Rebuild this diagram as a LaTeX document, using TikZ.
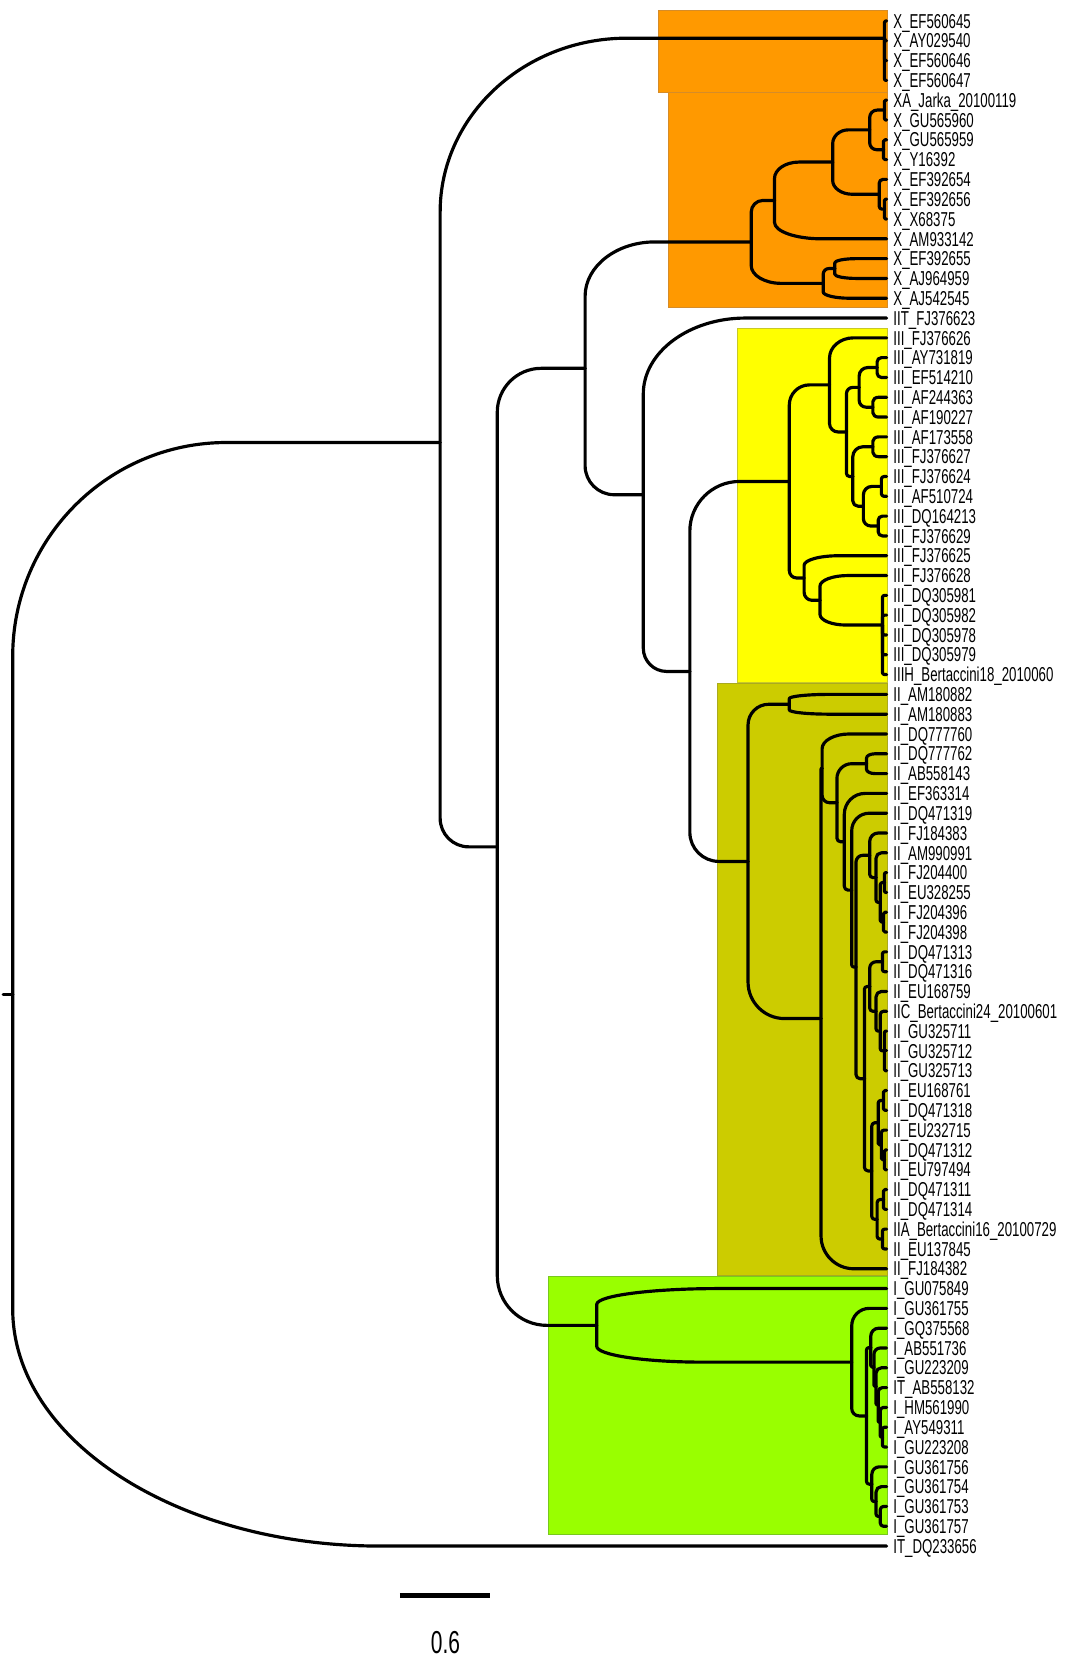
\documentclass[tikz,border=0pt]{standalone}
\usepackage{fontspec}
\newfontfamily\labfont{Liberation Sans}[FakeStretch=0.66]
\definecolor{orA}{RGB}{255,153,0}
\definecolor{orB}{RGB}{214,140,40}
\definecolor{yeA}{RGB}{255,255,0}
\definecolor{yeB}{RGB}{200,200,40}
\definecolor{olA}{RGB}{204,204,0}
\definecolor{olB}{RGB}{170,170,30}
\definecolor{grA}{RGB}{153,255,0}
\definecolor{grB}{RGB}{120,200,30}
\tikzset{
  branch/.style={line width=1.5pt, line cap=round, line join=round},
  lab/.style={anchor=base west, inner sep=0pt, font=\labfont\fontsize{9.5}{10}\selectfont},
  boxO/.style={fill=orA, draw=orB, line width=0.5pt},
  boxY/.style={fill=yeA, draw=yeB, line width=0.5pt},
  boxL/.style={fill=olA, draw=olB, line width=0.5pt},
  boxG/.style={fill=grA, draw=grB, line width=0.5pt},
  scalebar/.style={line width=2pt},
  scalelab/.style={inner sep=0pt, font=\labfont\fontsize{15}{16}\selectfont}
}
\newcommand\RW[1]{\csname nr-#1\endcsname}
\newcommand\setnode[3]{%
  \pgfmathsetmacro\snY{19.8+(#3-1)*18.72}%
  \expandafter\xdef\csname nx-#1\endcsname{#2}%
  \expandafter\xdef\csname ny-#1\endcsname{\snY}%
  \pgfmathsetmacro\snR{#3}%
  \expandafter\xdef\csname nr-#1\endcsname{\snR}%
  \coordinate (#1) at (#2,\snY);}
\newcommand\inode[4]{%
  \edef\inA{\RW{#3}}\edef\inB{\RW{#4}}%
  \pgfmathsetmacro\inR{(\inA+\inB)/2}%
  \setnode{#1}{#2}{\inR}}
\newcommand\leafnode[2]{%
  \setnode{l#1}{838}{#1}%
  \edef\lfY{\csname ny-l#1\endcsname}%
  \pgfmathsetmacro\lfB{\lfY+6.8}%
  \node[lab] (t#1) at (844,\lfB) {#2};}
\newcommand\tbranch[2]{%
  \edef\bAx{\csname nx-#1\endcsname}\edef\bAy{\csname ny-#1\endcsname}%
  \edef\bBx{\csname nx-#2\endcsname}\edef\bBy{\csname ny-#2\endcsname}%
  \pgfmathsetmacro\bRy{min(0.43*abs(\bBy-\bAy),0.5*(\bBx-\bAx))}%
  \pgfmathsetmacro\bRx{min(0.9*(\bBx-\bAx),max(0.42*(\bBx-\bAx),\bRy))}%
  \pgfmathsetmacro\bS{ifthenelse(\bBy<\bAy,-1,1)}%
  \pgfmathsetmacro\bYa{\bBy-(\bS)*\bRy}%
  \pgfmathsetmacro\bYc{\bBy-0.448*(\bS)*\bRy}%
  \pgfmathsetmacro\bXc{\bAx+0.448*\bRx}%
  \pgfmathsetmacro\bXe{\bAx+\bRx}%
  \draw[branch] (#1) -- (\bAx,\bYa) .. controls (\bAx,\bYc) and (\bXc,\bBy) .. (\bXe,\bBy) -- (#2);}
\begin{document}
\begin{tikzpicture}[x=0.5pt,y=-0.5pt]
\useasboundingbox (0,0) rectangle (1028,1568);
% coloured clade boxes
\path[boxO] (622,9.5) rectangle (839,87);
\path[boxO] (632,87) rectangle (839,290.5);
\path[boxY] (697,310.5) rectangle (839,645.5);
\path[boxL] (678,646) rectangle (839,1205.5);
\path[boxG] (518.5,1206.5) rectangle (839,1450);
% leaves and labels
\foreach \i/\t in {1/X\_EF560645,2/X\_AY029540,3/X\_EF560646,4/X\_EF560647,
 5/XA\_Jarka\_20100119,6/X\_GU565960,7/X\_GU565959,8/X\_Y16392,9/X\_EF392654,
 10/X\_EF392656,11/X\_X68375,12/X\_AM933142,13/X\_EF392655,14/X\_AJ964959,
 15/X\_AJ542545,16/IIT\_FJ376623,17/III\_FJ376626,18/III\_AY731819,19/III\_EF514210,
 20/III\_AF244363,21/III\_AF190227,22/III\_AF173558,23/III\_FJ376627,24/III\_FJ376624,
 25/III\_AF510724,26/III\_DQ164213,27/III\_FJ376629,28/III\_FJ376625,29/III\_FJ376628,
 30/III\_DQ305981,31/III\_DQ305982,32/III\_DQ305978,33/III\_DQ305979,
 34/IIIH\_Bertaccini18\_2010060,35/II\_AM180882,36/II\_AM180883,37/II\_DQ777760,
 38/II\_DQ777762,39/II\_AB558143,40/II\_EF363314,41/II\_DQ471319,42/II\_FJ184383,
 43/II\_AM990991,44/II\_FJ204400,45/II\_EU328255,46/II\_FJ204396,47/II\_FJ204398,
 48/II\_DQ471313,49/II\_DQ471316,50/II\_EU168759,51/IIC\_Bertaccini24\_20100601,
 52/II\_GU325711,53/II\_GU325712,54/II\_GU325713,55/II\_EU168761,56/II\_DQ471318,
 57/II\_EU232715,58/II\_DQ471312,59/II\_EU797494,60/II\_DQ471311,61/II\_DQ471314,
 62/IIA\_Bertaccini16\_20100729,63/II\_EU137845,64/II\_FJ184382,65/I\_GU075849,
 66/I\_GU361755,67/I\_GQ375568,68/I\_AB551736,69/I\_GU223209,70/IT\_AB558132,
 71/I\_HM561990,72/I\_AY549311,73/I\_GU223208,74/I\_GU361756,75/I\_GU361754,
 76/I\_GU361753,77/I\_GU361757,78/IT\_DQ233656}{\leafnode{\i}{\t}}
% orange clade
\setnode{T}{836}{1.87}
\inode{E1111}{836}{l5}{l6}
\inode{E1112}{835}{l7}{l8}
\inode{E111}{822}{E1111}{E1112}
\inode{E1121}{836}{l10}{l11}
\inode{E112}{831}{l9}{E1121}
\inode{E11}{787}{E111}{E112}
\inode{E1}{732}{E11}{l12}
\inode{E21}{789}{l13}{l14}
\inode{E2}{778}{E21}{l15}
\inode{E}{710}{E1}{E2}
% yellow clade
\inode{Ya}{829}{l18}{l19}
\inode{Yb}{825}{l20}{l21}
\inode{Y121}{812}{Ya}{Yb}
\inode{Yc}{825}{l22}{l23}
\inode{Yd}{833}{l24}{l25}
\inode{Ye}{830}{l26}{l27}
\inode{Y1222}{816}{Yd}{Ye}
\inode{Y122}{806}{Yc}{Y1222}
\inode{Y12}{800}{Y121}{Y122}
\inode{Y1}{784}{l17}{Y12}
\setnode{Y222}{834}{31.5}
\inode{Y22}{775}{l29}{Y222}
\inode{Y2}{760}{l28}{Y22}
\inode{Y}{746}{Y1}{Y2}
% olive clade
\inode{O1}{746}{l35}{l36}
\inode{P1}{819}{l38}{l39}
\inode{Pa}{836}{l44}{l45}
\inode{Pb}{835}{l46}{l47}
\inode{N52}{832}{Pa}{Pb}
\inode{N51}{828}{l43}{N52}
\inode{N5}{822}{l42}{N51}
\inode{Pc}{834}{l48}{l49}
\setnode{Pd}{836}{53}
\inode{N612}{832}{l51}{Pd}
\inode{N611}{828}{l50}{N612}
\inode{N61}{822}{Pc}{N611}
\inode{Pe}{835}{l55}{l56}
\inode{Pf}{836}{l58}{l59}
\inode{Pg}{833}{l57}{Pf}
\inode{N621}{830}{Pe}{Pg}
\inode{Ph}{835}{l60}{l61}
\inode{Pi}{834}{l62}{l63}
\inode{N622}{829}{Ph}{Pi}
\inode{N62}{824}{N621}{N622}
\inode{N6}{817}{N61}{N62}
\inode{N4}{809}{N5}{N6}
\inode{N3}{805}{l41}{N4}
\inode{N2}{798}{l40}{N3}
\inode{N1}{791}{P1}{N2}
\inode{O21}{777}{l37}{N1}
\inode{O2}{776}{O21}{l64}
\inode{O}{707}{O1}{O2}
\inode{G}{652}{Y}{O}
\inode{F}{608}{l16}{G}
% green clade
\inode{Ga}{834}{l72}{l73}
\inode{Gb}{832}{l71}{Ga}
\inode{Gc}{830}{l70}{Gb}
\inode{Gd}{828}{l69}{Gc}
\inode{Ge}{826}{l68}{Gd}
\inode{D221}{823}{l67}{Ge}
\inode{Gf}{832}{l76}{l77}
\inode{Gg}{828}{l75}{Gf}
\inode{D222}{824}{l74}{Gg}
\inode{D22}{819}{D221}{D222}
\inode{D2}{805}{l66}{D22}
\inode{D}{564}{l65}{D2}
% backbone
\inode{C}{553}{E}{F}
\inode{B}{470}{C}{D}
\inode{A}{416}{T}{B}
\inode{Root}{12}{A}{l78}
\setnode{stub}{3}{\RW{Root}}
\draw[branch] (stub) -- (Root);
\foreach \p/\c in {Root/A,Root/l78,A/T,A/B,T/l1,T/l2,T/l3,T/l4,B/C,B/D,C/E,C/F,
 E/E1,E/E2,E1/E11,E1/l12,E11/E111,E11/E112,E111/E1111,E111/E1112,E1111/l5,E1111/l6,
 E1112/l7,E1112/l8,E112/l9,E112/E1121,E1121/l10,E1121/l11,E2/E21,E2/l15,E21/l13,E21/l14,
 F/l16,F/G,G/Y,G/O,Y/Y1,Y/Y2,Y1/l17,Y1/Y12,Y12/Y121,Y12/Y122,Y121/Ya,Y121/Yb,
 Ya/l18,Ya/l19,Yb/l20,Yb/l21,Y122/Yc,Y122/Y1222,Yc/l22,Yc/l23,Y1222/Yd,Y1222/Ye,
 Yd/l24,Yd/l25,Ye/l26,Ye/l27,Y2/l28,Y2/Y22,Y22/l29,Y22/Y222,Y222/l30,Y222/l31,
 Y222/l32,Y222/l33,Y222/l34,O/O1,O/O2,O1/l35,O1/l36,O2/O21,O2/l64,O21/l37,O21/N1,
 N1/P1,N1/N2,P1/l38,P1/l39,N2/l40,N2/N3,N3/l41,N3/N4,N4/N5,N4/N6,N5/l42,N5/N51,
 N51/l43,N51/N52,N52/Pa,N52/Pb,Pa/l44,Pa/l45,Pb/l46,Pb/l47,N6/N61,N6/N62,N61/Pc,
 N61/N611,Pc/l48,Pc/l49,N611/l50,N611/N612,N612/l51,N612/Pd,Pd/l52,Pd/l53,Pd/l54,
 N62/N621,N62/N622,N621/Pe,N621/Pg,Pe/l55,Pe/l56,Pg/l57,Pg/Pf,Pf/l58,Pf/l59,
 N622/Ph,N622/Pi,Ph/l60,Ph/l61,Pi/l62,Pi/l63,D/l65,D/D2,D2/l66,D2/D22,D22/D221,
 D22/D222,D221/l67,D221/Ge,Ge/l68,Ge/Gd,Gd/l69,Gd/Gc,Gc/l70,Gc/Gb,Gb/l71,Gb/Ga,
 Ga/l72,Ga/l73,D222/l74,D222/Gg,Gg/l75,Gg/Gf,Gf/l76,Gf/l77}{\tbranch{\p}{\c}}
% scale bar
\coordinate (sb1) at (378,1508);
\coordinate (sb2) at (463,1508);
\draw[scalebar] (sb1) -- (sb2);
\node[scalelab] (sbl) at (421,1552) {0.6};
\end{tikzpicture}
\end{document}
